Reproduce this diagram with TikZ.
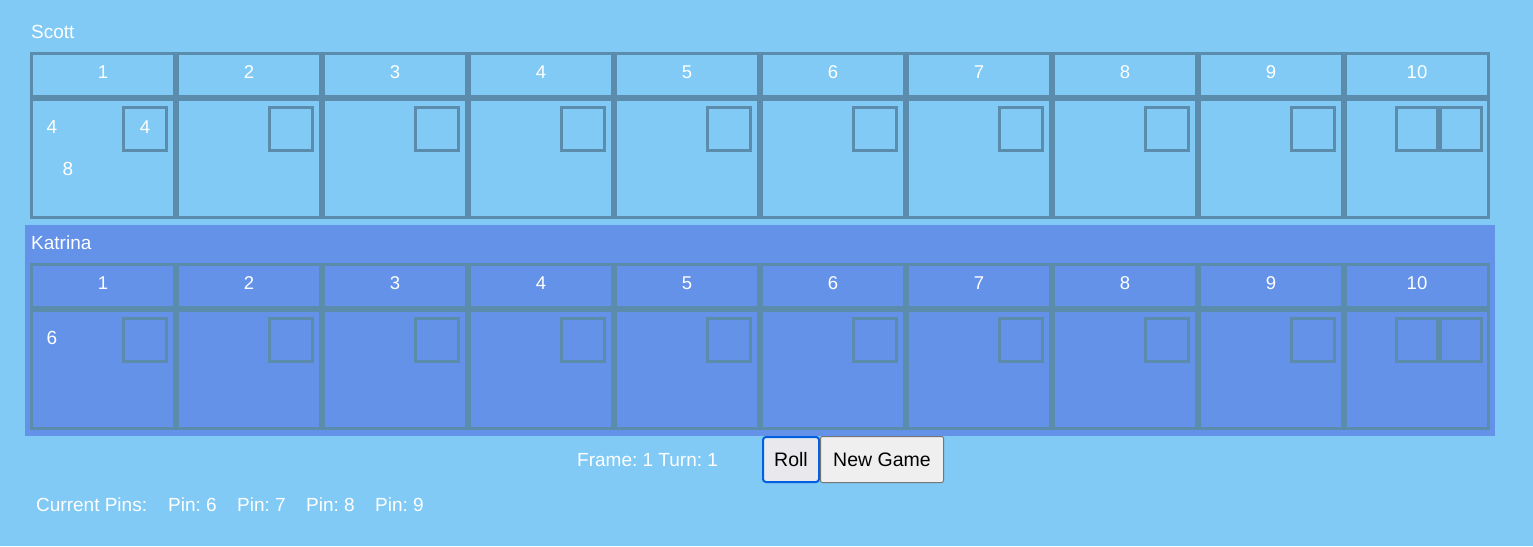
\documentclass[tikz,border=0pt]{standalone}
\usepackage{fontspec}
\setmainfont{Liberation Sans}
\frenchspacing
\definecolor{bgblue}{HTML}{81CAF5}
\definecolor{pblue}{HTML}{6492E8}
\definecolor{edge}{HTML}{5C8CAB}
\definecolor{rollbd}{HTML}{0060DF}
\definecolor{rollbg}{HTML}{E9E9ED}
\definecolor{btnbg}{HTML}{EFEFEF}
\definecolor{btnbd}{HTML}{767676}
\begin{document}
\begin{tikzpicture}[x=1pt,y=-1pt,
  txt/.style={text=white,font=\fontsize{19}{22}\selectfont,inner sep=0pt},
  hdr/.style={draw=edge,line width=3pt,minimum width=143pt,minimum height=43pt,inner sep=0pt,text=white,font=\fontsize{18.5}{22}\selectfont,text depth=6pt},
  body/.style={draw=edge,line width=3pt,minimum width=143pt,minimum height=118pt,inner sep=0pt},
  sbox/.style={draw=edge,line width=3pt,minimum width=43pt,minimum height=43pt,inner sep=0pt,text=white,font=\fontsize{18.5}{22}\selectfont,text depth=4pt},
  tbox/.style={draw=edge,line width=3pt,minimum width=41pt,minimum height=43pt,inner sep=0pt},
  btn/.style={inner sep=0pt,font=\fontsize{19.5}{23}\selectfont,text=black}]
\fill[bgblue] (0,0) rectangle (1533,546);
\useasboundingbox (0,0) rectangle (1533,546);
\fill[pblue] (25,225) rectangle (1495,436);
% Scott
\node[txt,anchor=base west] (scott) at (31,38) {Scott};
\foreach \i in {1,...,10}{
  \pgfmathsetmacro{\cx}{103+146*(\i-1)}
  \node[hdr] (sh\i) at (\cx,75) {\i};
  \node[body] (sb\i) at (\cx,158.5) {};
}
\foreach \i in {1,...,9}{
  \pgfmathsetmacro{\cx}{145+146*(\i-1)}
  \node[sbox] (ss\i) at (\cx,129) {\ifnum\i=1 4\fi};
}
\node[tbox] (sta) at (1417,129) {};
\node[tbox] (stb) at (1461,129) {};
\node[txt] (sr1) at (52,127) {4};
\node[txt] (st1) at (68,169) {8};
% Katrina
\node[txt,anchor=base west] (katrina) at (31,249) {Katrina};
\foreach \i in {1,...,10}{
  \pgfmathsetmacro{\cx}{103+146*(\i-1)}
  \node[hdr] (kh\i) at (\cx,286) {\i};
  \node[body] (kb\i) at (\cx,369.5) {};
}
\foreach \i in {1,...,9}{
  \pgfmathsetmacro{\cx}{145+146*(\i-1)}
  \node[sbox] (ks\i) at (\cx,340) {};
}
\node[tbox] (kta) at (1417,340) {};
\node[tbox] (ktb) at (1461,340) {};
\node[txt] (kr1) at (52,338) {6};
% controls
\node[txt,anchor=base west] (status) at (577,466.5) {Frame: 1 Turn: 1};
\draw[rollbd,fill=rollbg,line width=2pt,rounded corners=3pt] (763,437) rectangle (819,482);
\node[btn] (roll) at (791,459.5) {Roll};
\draw[btnbd,fill=btnbg,line width=1pt,rounded corners=2pt] (820.5,436.5) rectangle (943.5,482.5);
\node[btn] (newgame) at (882,459.5) {New Game};
\node[txt,anchor=base west] (cur) at (36,511.5) {Current Pins:};
\node[txt,anchor=base west] (p6) at (168,511.5) {Pin: 6};
\node[txt,anchor=base west] (p7) at (237,511.5) {Pin: 7};
\node[txt,anchor=base west] (p8) at (306,511.5) {Pin: 8};
\node[txt,anchor=base west] (p9) at (375,511.5) {Pin: 9};
\end{tikzpicture}
\end{document}
